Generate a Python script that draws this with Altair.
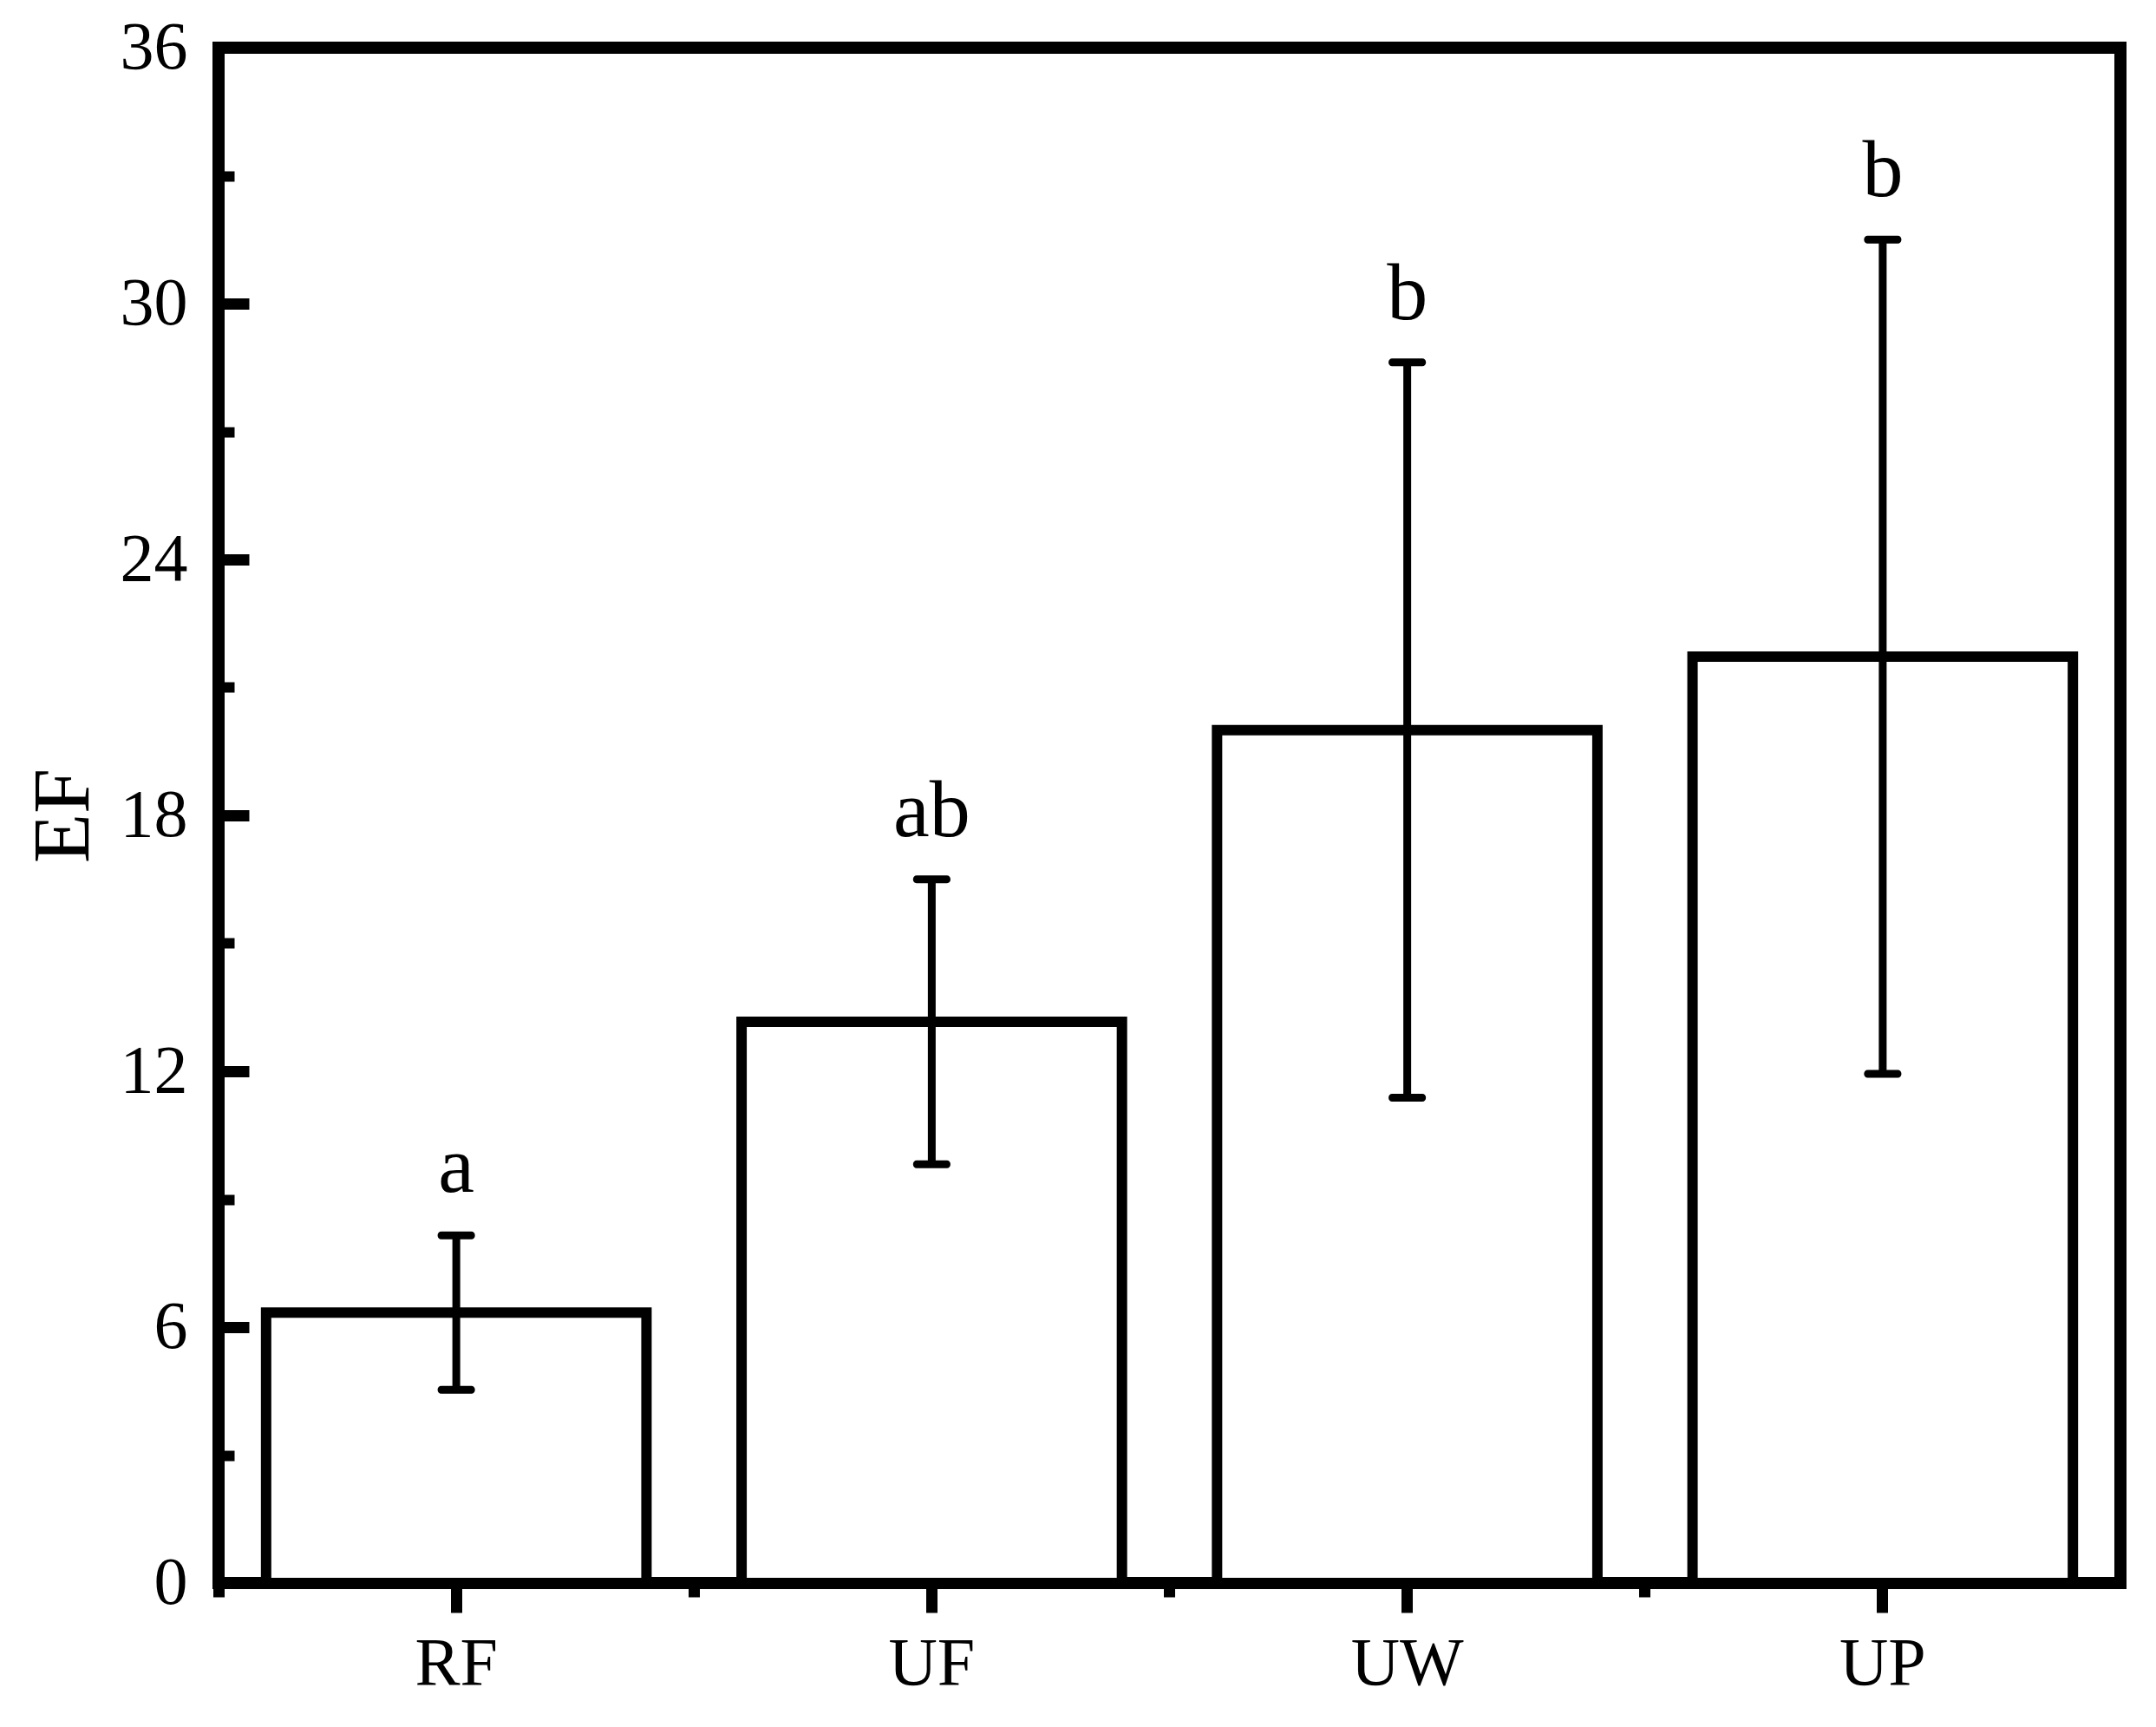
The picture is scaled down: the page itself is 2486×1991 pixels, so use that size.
import altair as alt
import pandas as pd

categories = ["RF", "UF", "UW", "UP"]
means = [6.34, 13.16, 20.0, 21.72]
errors = [1.81, 3.34, 8.62, 9.78]
letters = ["a", "ab", "b", "b"]
major_ticks = [0, 6, 12, 18, 24, 30, 36]
minor_ticks = [3, 9, 15, 21, 27, 33]

df = pd.DataFrame({"cat": categories, "mean": means, "err": errors, "letter": letters})

FONT = "Liberation Serif"
W, H = 2193, 1770
yscale = alt.Scale(domain=[0, 36], nice=False, zero=True)
xscale = alt.Scale(paddingInner=0.2, paddingOuter=0.1)

base = alt.Chart(df).transform_calculate(
    hi="datum.mean + datum.err", lo="datum.mean - datum.err"
)

bars = base.mark_bar(fill="white", stroke="black", strokeWidth=12).encode(
    x=alt.X("cat:N", sort=categories, scale=xscale,
            axis=alt.Axis(orient="bottom", title=None, domain=False,
                          tickSize=34, tickWidth=13, tickColor="black",
                          labelFont=FONT, labelFontSize=78, labelColor="black",
                          labelPadding=20, labelAngle=0)),
    y=alt.Y("mean:Q", scale=yscale,
            axis=alt.Axis(orient="left", title="EF", values=major_ticks,
                          domain=False, ticks=False, tickSize=0,
                          labelFont=FONT, labelFontSize=78, labelColor="black",
                          labelPadding=36, grid=False,
                          titleFont=FONT, titleFontSize=94, titleFontWeight="normal",
                          titleColor="black", titlePadding=17)),
)

stems = base.mark_rule(color="black", strokeWidth=9).encode(
    x=alt.X("cat:N", sort=categories, scale=xscale,
            axis=alt.Axis(orient="bottom", title=None, domain=False, labels=False,
                          bandPosition=-0.125, tickSize=16, tickWidth=13,
                          tickColor="black")),
    y=alt.Y("lo:Q", scale=yscale,
            axis=alt.Axis(orient="right", offset=-W, title=None, values=major_ticks,
                          domain=False, labels=False, grid=False,
                          tickSize=35, tickWidth=13, tickColor="black")),
    y2="hi:Q",
)

caps_hi = base.mark_tick(color="black", opacity=1, orient="horizontal", size=43,
                         thickness=9, cornerRadius=4).encode(
    x=alt.X("cat:N", sort=categories, scale=xscale, axis=None),
    y=alt.Y("hi:Q", scale=yscale,
            axis=alt.Axis(orient="right", offset=-W, title=None, values=minor_ticks,
                          domain=False, labels=False, grid=False,
                          tickSize=18, tickWidth=12, tickColor="black")),
)

caps_lo = base.mark_tick(color="black", opacity=1, orient="horizontal", size=43,
                         thickness=9, cornerRadius=4).encode(
    x=alt.X("cat:N", sort=categories, scale=xscale, axis=None),
    y=alt.Y("lo:Q", scale=yscale, axis=None),
)

texts = base.mark_text(font=FONT, fontSize=94, color="black", baseline="alphabetic",
                       align="center", dy=-50).encode(
    x=alt.X("cat:N", sort=categories, scale=xscale, axis=None),
    y=alt.Y("hi:Q", scale=yscale, axis=None),
    text="letter:N",
)

chart = alt.layer(bars, stems, caps_hi, caps_lo, texts).resolve_axis(
    x="independent", y="independent"
).properties(
    width=W, height=H, padding={"left": 18, "top": 8, "right": 10, "bottom": 10},
    background="white",
).configure_view(stroke="black", strokeWidth=14)

chart.save("out.html", embed_options={"renderer": "svg", "actions": False})
